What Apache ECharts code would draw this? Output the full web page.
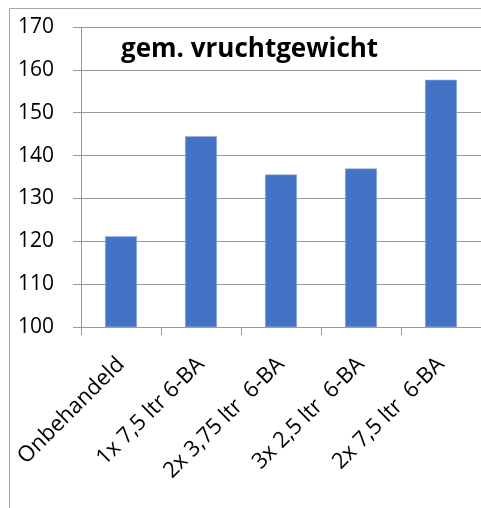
<!DOCTYPE html>
<html lang="nl">
<head>
    <meta charset="UTF-8">
    <title>gem. vruchtgewicht</title>
    <script type="text/javascript" src="https://cdn.jsdelivr.net/npm/echarts@6/dist/echarts.min.js"></script>
    <style>
        html, body { margin: 0; padding: 0; background: #fff; }
    </style>
</head>
<body>
<div id="chart" style="width: 481px;height:508px;"></div>
<script>

    var categories = ['Onbehandeld', '1x 7,5 ltr 6-BA', '2x 3,75 ltr  6-BA', '3x 2,5 ltr  6-BA', '2x 7,5 ltr  6-BA'];
    var weights = [121.2, 144.5, 135.6, 137.0, 157.7];
    var yTicks = [100, 110, 120, 130, 140, 150, 160, 170];

    var font = '"Open Sans", "Liberation Sans", sans-serif';

    var option = {
        animation: false,
        title: {
            text: 'gem. vruchtgewicht',
            left: 116,
            top: 32,
            textStyle: {
                fontFamily: font,
                fontSize: 26,
                fontWeight: 'bold',
                color: '#000'
            }
        },
        // outer chart frame
        graphic: [{
            type: 'rect',
            shape: {x: 9.5, y: 8.5, width: 520, height: 540},
            style: {fill: 'none', stroke: '#a6a6a6', lineWidth: 1},
            silent: true
        }],
        grid: {
            left: 81,
            right: -8,
            top: 27,
            bottom: 181
        },
        xAxis: {
            type: 'category',
            data: categories,
            axisLine: {lineStyle: {color: '#999', width: 1}},
            axisTick: {show: true, length: 8, alignWithLabel: false, lineStyle: {color: '#999'}},
            axisLabel: {
                rotate: 45,
                margin: 34,
                interval: 0,
                color: '#000',
                fontFamily: font,
                fontSize: 22
            }
        },
        yAxis: {
            type: 'value',
            min: yTicks[0],
            max: yTicks[yTicks.length - 1],
            interval: 10,
            axisLine: {show: true, lineStyle: {color: '#999', width: 1}},
            axisTick: {show: true, inside: false, length: 8, lineStyle: {color: '#999'}},
            splitLine: {show: true, lineStyle: {color: '#999', width: 1}},
            axisLabel: {
                margin: 27,
                color: '#000',
                fontFamily: font,
                fontSize: 21
            }
        },
        series: [{
            name: 'gem. vruchtgewicht',
            type: 'bar',
            data: weights,
            barWidth: '40%',
            itemStyle: {
                color: '#4472C4',
                borderColor: '#9db5e0',
                borderWidth: 0.6
            }
        }]
    };

    var myChart = echarts.init(document.getElementById('chart'));
    myChart.setOption(option);

</script>
</body>
</html>
